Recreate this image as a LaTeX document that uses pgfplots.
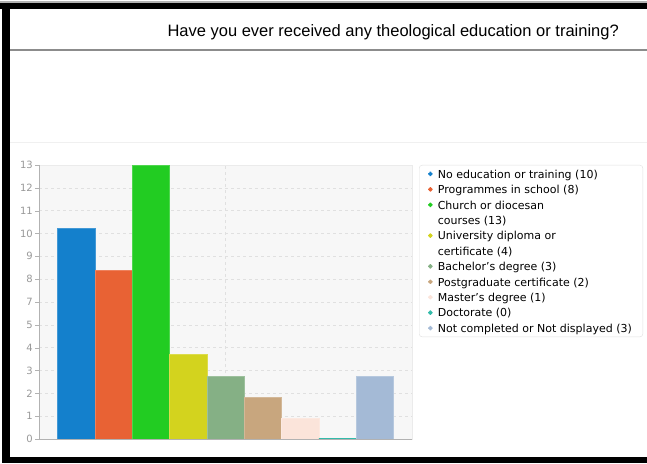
\documentclass[border=0pt]{standalone}
\usepackage{pgfplots}
\pgfplotsset{compat=1.18}
\usepackage{fontspec}
\setmainfont{DejaVu Sans}
\newfontfamily\titlefont{Liberation Sans}
\definecolor{cA}{HTML}{1480CC}
\definecolor{cB}{HTML}{E86234}
\definecolor{cC}{HTML}{22CC22}
\definecolor{cD}{HTML}{D3D31E}
\definecolor{cE}{HTML}{85B085}
\definecolor{cF}{HTML}{C8A67E}
\definecolor{cG}{HTML}{FBE4DA}
\definecolor{cH}{HTML}{33BBAA}
\definecolor{cI}{HTML}{A4BAD6}
\newcommand\ls{\rule[-4.4pt]{0pt}{14.35pt}}
\pgfplotsset{
  one line legend/.style={legend image code/.code={
    \path[fill=##1, draw=none] (0pt,-2.2pt) rectangle (4.4pt,2.2pt); \path (7pt,0pt);}},
  two line legend/.style={legend image code/.code={
    \path[fill=##1, draw=none] (0pt,5.45pt) rectangle (4.4pt,9.85pt); \path (7pt,7.65pt);}},
}
\begin{document}
\begin{tikzpicture}
\useasboundingbox (0pt,0pt) rectangle (647pt,463pt);
\fill[white] (0pt,0pt) rectangle (647pt,463pt);
% frame
\fill[black!30] (0pt,460pt) rectangle (647pt,461.5pt);
\fill[black] (0pt,454pt) rectangle (647pt,460pt);
\fill[black] (2pt,0pt) rectangle (10pt,460pt);
\fill[black] (2pt,0pt) rectangle (647pt,6pt);
\draw[black!45, line width=1.2pt] (10pt,413pt) -- (647pt,413pt);
\draw[black!6, line width=1pt] (10pt,320pt) -- (647pt,320pt);
\node[anchor=east, inner sep=0pt, font=\titlefont\fontsize{16.5}{18}\selectfont] at (619pt,431pt)
  {Have you ever received any theological education or training?};

\begin{axis}[
  at={(39pt,24pt)}, anchor=south west,
  scale only axis, width=373pt, height=274pt,
  ybar, bar width=1, bar shift=0pt,
  xmin=-1, xmax=9, ymin=0, ymax=13,
  enlargelimits=false,
  xtick=\empty,
  extra x ticks={4}, extra x tick labels={},
  extra x tick style={grid=major, major tick length=0pt},
  ytick={0,1.0833,2.1667,3.25,4.3333,5.4167,6.5,7.5833,8.6667,9.75,10.8333,11.9167,13},
  yticklabels={0,1,2,3,4,5,7,8,9,10,11,12,13},
  ymajorgrids,
  grid style={dashed, black!12},
  axis line style={black!8},
  tick align=outside, major tick length=4pt,
  ytick pos=left,
  ytick style={black!30},
  yticklabel style={font=\fontsize{10}{11}\selectfont, text=black!40, inner sep=2pt},
  axis background/.style={fill=black!3},
  legend cell align=left,
  legend style={at={(1,1)}, anchor=north west, xshift=7pt,
    draw=black!12, rounded corners=3pt, fill=white,
    font=\fontsize{11}{15.3}\selectfont, row sep=0pt,
    inner xsep=9pt, inner ysep=1pt,
    cells={anchor=west, align=left}},
]
\addplot[fill=cA, draw=cA!80!white, one line legend={cA}] coordinates {(0,10)};
\addlegendentry{\ls No education or training (10)}
\addplot[fill=cB, draw=cB!80!white, one line legend={cB}] coordinates {(1,8)};
\addlegendentry{\ls Programmes in school (8)}
\addplot[fill=cC, draw=cC!80!white, two line legend={cC}] coordinates {(2,13)};
\addlegendentry{\ls Church or diocesan\\\ls courses (13)}
\addplot[fill=cD, draw=cD!80!white, two line legend={cD}] coordinates {(3,4)};
\addlegendentry{\ls University diploma or\\\ls certificate (4)}
\addplot[fill=cE, draw=cE!80!white, one line legend={cE}] coordinates {(4,3)};
\addlegendentry{\ls Bachelor's degree (3)}
\addplot[fill=cF, draw=cF!80!white, one line legend={cF}] coordinates {(5,2)};
\addlegendentry{\ls Postgraduate certificate (2)}
\addplot[fill=cG, draw=cG!80!white, one line legend={cG}] coordinates {(6,1)};
\addlegendentry{\ls Master's degree (1)}
\addplot[fill=cH, draw=cH, line width=1.2pt, one line legend={cH}] coordinates {(7,0)};
\addlegendentry{\ls Doctorate (0)}
\addplot[fill=cI, draw=cI!80!white, one line legend={cI}] coordinates {(8,3)};
\addlegendentry{\ls Not completed or Not displayed (3)}
\draw[black!30] (rel axis cs:0,1) -- (rel axis cs:0,0) -- (rel axis cs:1,0);
\end{axis}
\end{tikzpicture}
\end{document}
